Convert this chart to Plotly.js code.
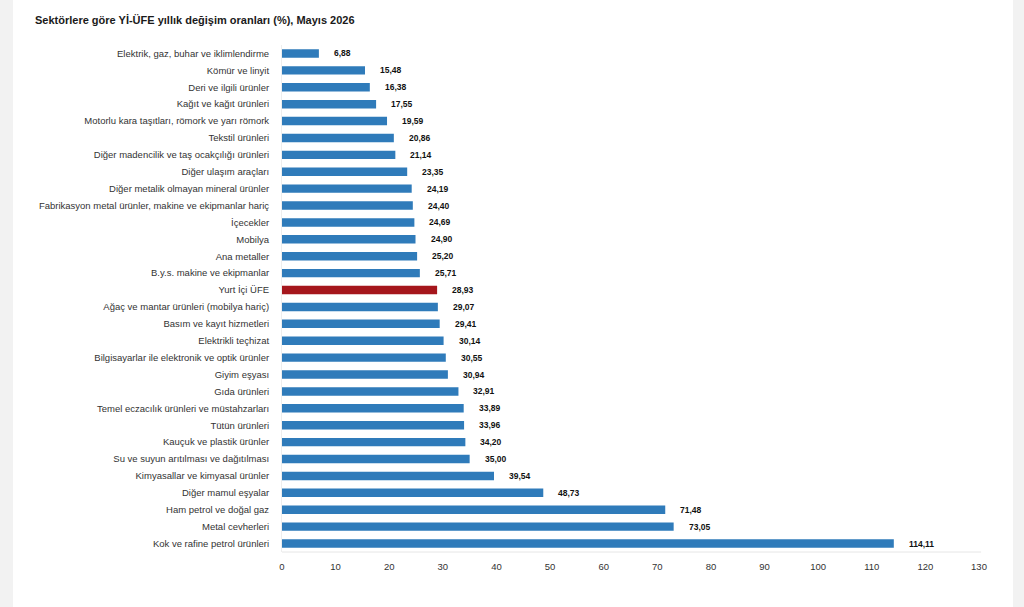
<!DOCTYPE html>
<html>
<head>
<meta charset="utf-8">
<script src="https://cdn.plot.ly/plotly-3.0.1.min.js"></script>
<style>
  html, body { margin: 0; padding: 0; background: #f2f2f2; width: 1024px; height: 607px; overflow: hidden; }
  #panel { position: absolute; left: 13px; top: 0; width: 1000px; height: 607px; background: #ffffff; }
  #chart { width: 1000px; height: 607px; }
</style>
</head>
<body>
<div id="panel"><div id="chart"></div></div>
<script>
const categories = [
  "Elektrik, gaz, buhar ve iklimlendirme",
  "Kömür ve linyit",
  "Deri ve ilgili ürünler",
  "Kağıt ve kağıt ürünleri",
  "Motorlu kara taşıtları, römork ve yarı römork",
  "Tekstil ürünleri",
  "Diğer madencilik ve taş ocakçılığı ürünleri",
  "Diğer ulaşım araçları",
  "Diğer metalik olmayan mineral ürünler",
  "Fabrikasyon metal ürünler, makine ve ekipmanlar hariç",
  "İçecekler",
  "Mobilya",
  "Ana metaller",
  "B.y.s. makine ve ekipmanlar",
  "Yurt İçi ÜFE",
  "Ağaç ve mantar ürünleri (mobilya hariç)",
  "Basım ve kayıt hizmetleri",
  "Elektrikli teçhizat",
  "Bilgisayarlar ile elektronik ve optik ürünler",
  "Giyim eşyası",
  "Gıda ürünleri",
  "Temel eczacılık ürünleri ve müstahzarları",
  "Tütün ürünleri",
  "Kauçuk ve plastik ürünler",
  "Su ve suyun arıtılması ve dağıtılması",
  "Kimyasallar ve kimyasal ürünler",
  "Diğer mamul eşyalar",
  "Ham petrol ve doğal gaz",
  "Metal cevherleri",
  "Kok ve rafine petrol ürünleri"
];
const values = [6.88, 15.48, 16.38, 17.55, 19.59, 20.86, 21.14, 23.35, 24.19, 24.40,
  24.69, 24.90, 25.20, 25.71, 28.93, 29.07, 29.41, 30.14, 30.55, 30.94,
  32.91, 33.89, 33.96, 34.20, 35.00, 39.54, 48.73, 71.48, 73.05, 114.11];
const highlight = "Yurt İçi ÜFE";
const xTicks = [0, 10, 20, 30, 40, 50, 60, 70, 80, 90, 100, 110, 120, 130];

const blue = "#2f7bba";
const red = "#a5161c";
const colors = categories.map(c => c === highlight ? red : blue);
const fmt = v => v.toFixed(2).replace(".", ",");
const FONT = "Liberation Sans, Arial, sans-serif";

const trace = {
  type: "bar",
  orientation: "h",
  x: values,
  y: categories,
  marker: { color: colors },
  width: 0.5,
  hoverinfo: "skip"
};

const annotations = values.map((v, i) => ({
  x: v, y: categories[i], xref: "x", yref: "y",
  text: fmt(v), showarrow: false, xanchor: "left", yanchor: "middle",
  xshift: 13,
  font: { family: FONT, size: 8.5, color: "#111111", weight: 700 }
}));

const layout = {
  width: 1000, height: 607,
  paper_bgcolor: "#ffffff", plot_bgcolor: "#ffffff",
  margin: { l: 269, r: 34, t: 44.5, b: 54.5 },
  showlegend: false,
  title: {
    text: "<b>Sektörlere göre Yİ-ÜFE yıllık değişim oranları (%), Mayıs 2026</b>",
    xref: "container", yref: "container",
    x: 0.022, xanchor: "left",
    y: 1 - 20 / 607, yanchor: "middle",
    font: { family: FONT, size: 11, color: "#1a1a1a" }
  },
  font: { family: FONT, size: 9.5, color: "#333333" },
  xaxis: {
    range: [0, 130],
    tickvals: xTicks,
    ticktext: xTicks.map(String),
    showgrid: false, zeroline: false,
    showline: false,
    ticks: "", ticklabelstandoff: 7,
    tickfont: { size: 9.5, color: "#333333" },
    fixedrange: true
  },
  yaxis: {
    type: "category",
    autorange: "reversed",
    showgrid: false, zeroline: false,
    showline: true, linecolor: "#eeeeee", linewidth: 1,
    ticks: "", ticklabelstandoff: 10,
    tickfont: { size: 9.5, color: "#333333" },
    fixedrange: true
  },
  shapes: [{
    type: "line", xref: "paper", yref: "paper",
    x0: 0, x1: 1.003, y0: 0, y1: 0,
    line: { color: "#e6e6e6", width: 1 }
  }],
  annotations: annotations
};

Plotly.newPlot("chart", [trace], layout, { displayModeBar: false, staticPlot: true });
</script>
</body>
</html>
